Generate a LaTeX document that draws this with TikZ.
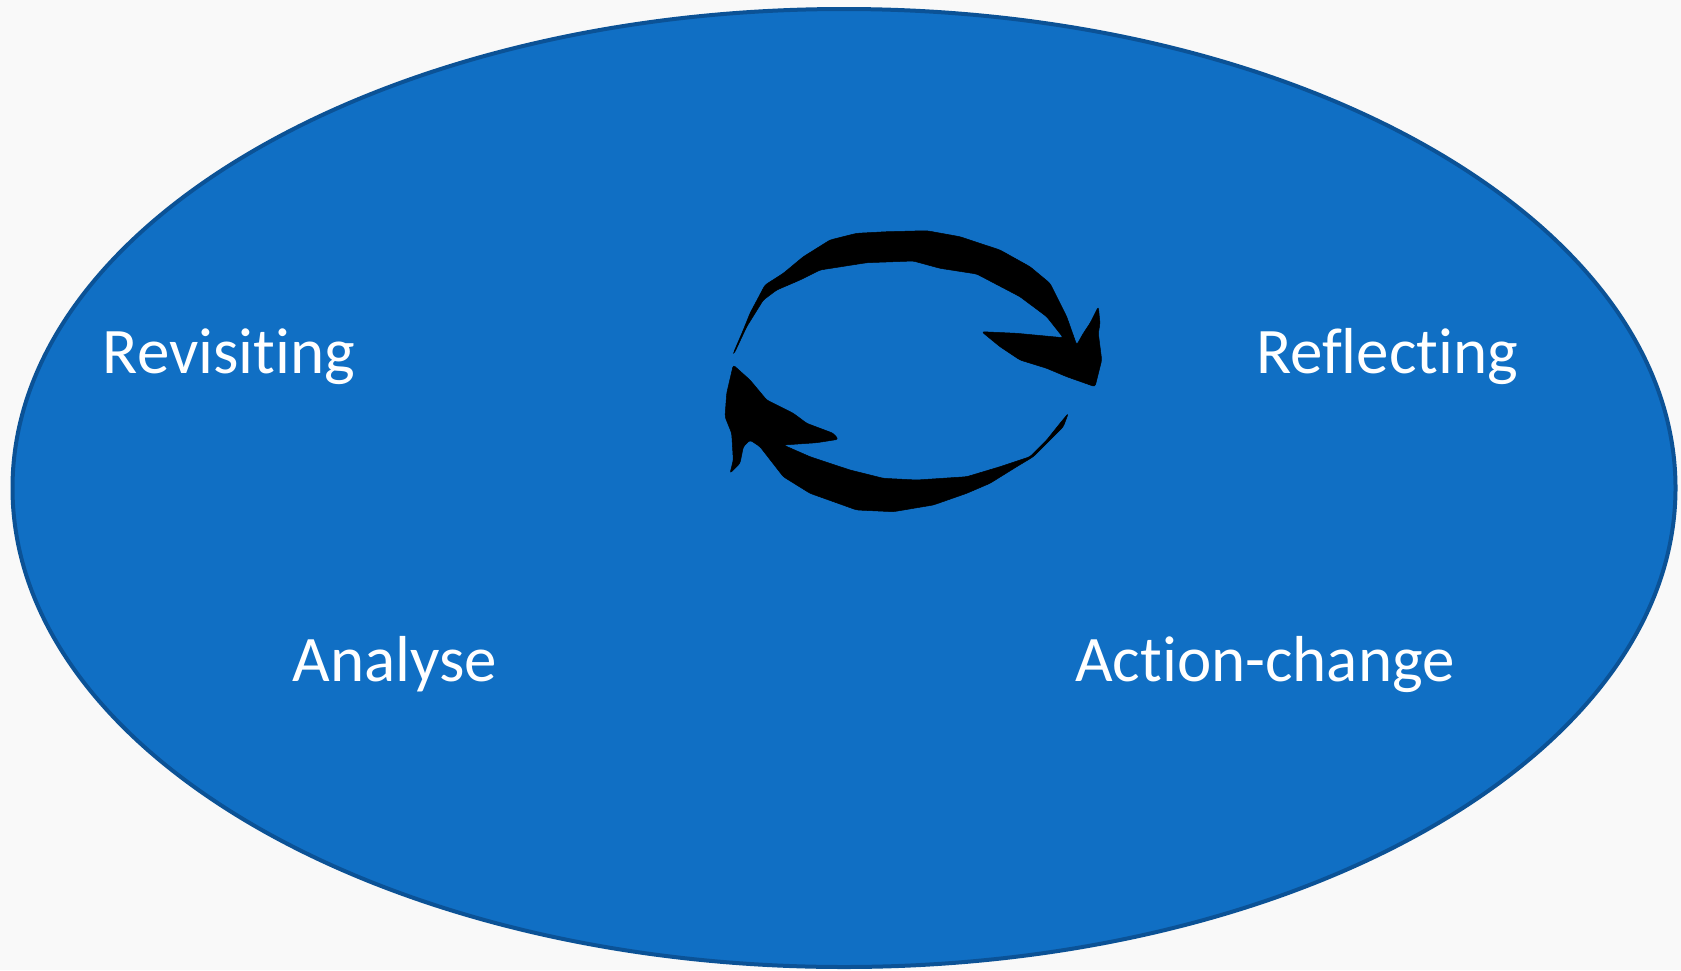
\documentclass[tikz,border=0pt]{standalone}
\usepackage{fontspec}
\usetikzlibrary{shapes.geometric}
\setmainfont{Carlito}[Ligatures={NoCommon}]
\definecolor{bgc}{RGB}{249,249,249}
\definecolor{ellfill}{RGB}{16,111,196}
\definecolor{ellline}{RGB}{11,82,150}
\tikzset{
  lbl/.style={text=white, font=\fontsize{65}{72}\selectfont, inner sep=0pt, anchor=base},
  brush/.style={fill=black, draw=black, line width=0.5pt, line join=round, rounded corners=2.5pt}
}
\begin{document}
\begin{tikzpicture}[x=1pt,y=-1pt]
\fill[bgc] (0,0) rectangle (1681,970);
\useasboundingbox (0,0) rectangle (1681,970);
\node[ellipse, draw=ellline, fill=ellfill, line width=4pt, minimum width=1663pt, minimum height=958pt, inner sep=0pt] (ell) at (844,488) {};
\node[lbl] (revisiting) at (229,373) {Revisiting};
\node[lbl] (reflecting) at (1387,373) {Reflecting};
\node[lbl] (analyse) at (395,681) {Analyse};
\node[lbl] (action) at (1265,681) {Action-change};
% top arrow
\path[brush] (733.3,353.3) -- (743.3,330) -- (750,313.3) -- (765,285) -- (783.3,273.3) -- (803.3,256.7)
 -- (830,240) -- (856.7,233.3) -- (886.7,231.7) -- (926.7,230.7) -- (960,236.7) -- (1000,250)
 -- (1030,266.7) -- (1050,283.3) -- (1066.7,316.7) -- (1076.7,345)
 -- (1083.3,333.3) -- (1090,323.3) -- (1098.3,306.7) -- (1100,323.3) -- (1098.3,333.3)
 -- (1101.7,360) -- (1095,386.7)
 -- (1066.7,376.7) -- (1046.7,368.3) -- (1020,360) -- (1000,346.7) -- (981.7,331.7)
 -- (1016.7,333.3) -- (1063.3,337.7)
 -- (1046.7,316.7) -- (1020,296.7) -- (976.7,274) -- (940,268.3) -- (913.3,261) -- (866.7,262.7)
 -- (820,270) -- (800,280) -- (776.7,290) -- (763.3,300) -- (746.7,326.7) -- (735,351.7) -- cycle;
% bottom arrow
\path[brush] (1068.3,413.3) -- (1063.3,426.7) -- (1050,440) -- (1033.3,456.7) -- (1016.7,466.7)
 -- (990,483.3) -- (966.7,493.3) -- (933.3,505) -- (893.3,511.7) -- (856.7,510) -- (810,493.3)
 -- (783.3,476.7) -- (760,446.7)
 -- (750,440) -- (743.3,446.7) -- (740,463.3) -- (730,473.3) -- (733.3,460) -- (731.7,433.3)
 -- (725,416.7) -- (726.7,393.3) -- (733.3,365)
 -- (750,380) -- (766.7,400) -- (793.3,413.3) -- (806.7,423.3) -- (833.3,433.3) -- (838.3,439.3)
 -- (816.7,442.7) -- (783.3,445)
 -- (810,456.7) -- (850,470) -- (883.3,478.3) -- (916.7,480) -- (966.7,476.7) -- (1000,466.7)
 -- (1030,456.7) -- (1046.7,440) -- (1060,423.3) -- cycle;
\end{tikzpicture}
\end{document}
